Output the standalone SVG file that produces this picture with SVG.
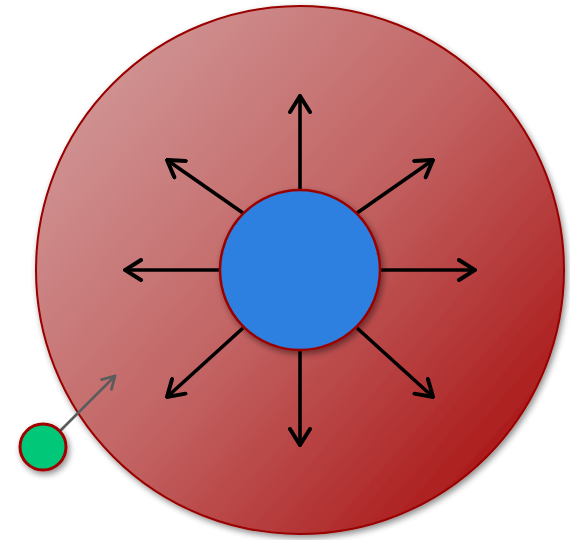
<svg xmlns="http://www.w3.org/2000/svg" width="570" height="540" viewBox="0 0 570 540">
<defs>
<linearGradient id="bg" x1="0.05" y1="0.1" x2="0.95" y2="0.9">
<stop offset="0" stop-color="#d29a9a"/>
<stop offset="0.5" stop-color="#c26262"/>
<stop offset="1" stop-color="#a80f0f"/>
</linearGradient>
<filter id="sh" x="-30%" y="-30%" width="160%" height="160%">
<feGaussianBlur in="SourceAlpha" stdDeviation="3"/>
<feOffset dx="2" dy="3" result="b"/>
<feComponentTransfer><feFuncA type="linear" slope="0.45"/></feComponentTransfer>
<feMerge><feMergeNode/><feMergeNode in="SourceGraphic"/></feMerge>
</filter>
<marker id="ah" viewBox="0 0 20 24" refX="18" refY="12" markerWidth="20" markerHeight="24" markerUnits="userSpaceOnUse" orient="auto">
<path d="M2,2 L18,12 L2,22" fill="none" stroke="#000" stroke-width="4" stroke-linecap="round" stroke-linejoin="miter"/>
</marker>
<marker id="ahg" viewBox="0 0 16 18" refX="14" refY="9" markerWidth="16" markerHeight="18" markerUnits="userSpaceOnUse" orient="auto">
<path d="M2,2 L14,9 L2,16" fill="none" stroke="#5c5c5c" stroke-width="2.8" stroke-linecap="round"/>
</marker>
</defs>
<style>
.ar{stroke:#000;stroke-width:3.6;fill:none;marker-end:url(#ah)}
</style>
<g id="outer">
<circle cx="300" cy="270" r="264" fill="url(#bg)" stroke="#990000" stroke-width="2" filter="url(#sh)"/>
</g>
<g id="connectors">
<line class="ar" x1="300" y1="190" x2="300" y2="96"/>
<line class="ar" x1="300" y1="350" x2="300" y2="445"/>
<line class="ar" x1="220" y1="270" x2="125" y2="270"/>
<line class="ar" x1="380" y1="270" x2="475" y2="270"/>
<line class="ar" x1="243" y1="213" x2="167" y2="160"/>
<line class="ar" x1="357" y1="213" x2="433" y2="160"/>
<line class="ar" x1="243" y1="328" x2="167" y2="397"/>
<line class="ar" x1="357" y1="328" x2="433" y2="397"/>
<line x1="60" y1="431" x2="115" y2="376" stroke="#5c5c5c" stroke-width="2.6" marker-end="url(#ahg)"/>
</g>
<g id="center">
<circle cx="300" cy="270" r="80" fill="#2e80e0" stroke="#990000" stroke-width="2.5" filter="url(#sh)"/>
</g>
<g id="particle">
<circle cx="43" cy="447" r="23" fill="#00c878" stroke="#a00000" stroke-width="3" filter="url(#sh)"/>
</g>
</svg>
